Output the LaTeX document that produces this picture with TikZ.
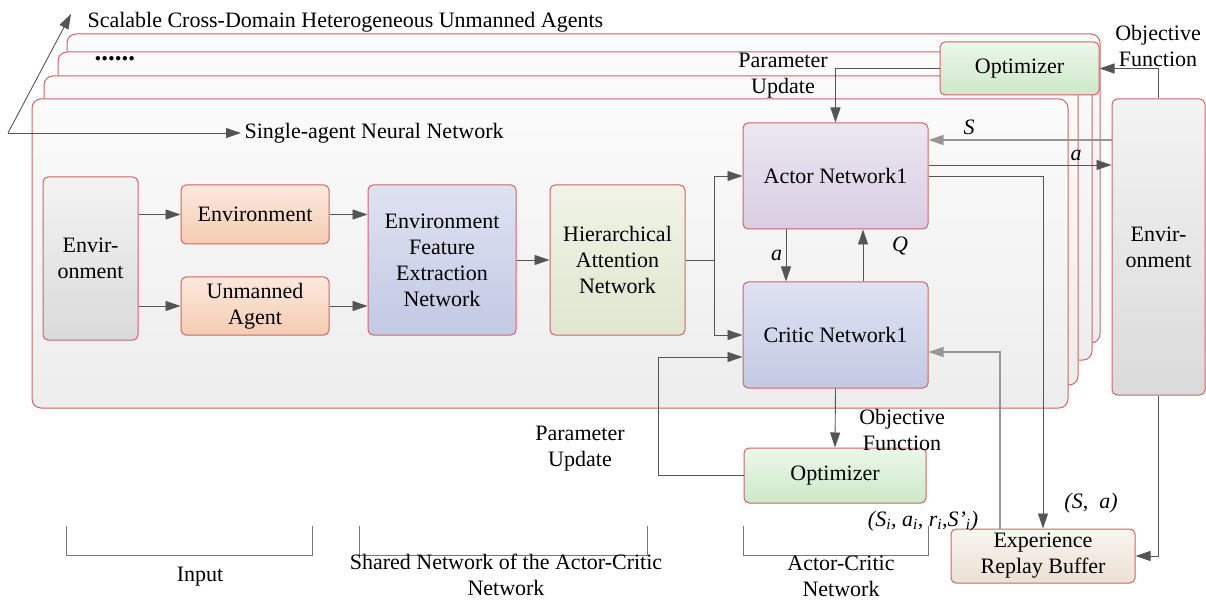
\documentclass[tikz,border=0pt]{standalone}
\usepackage{fontspec}
\setmainfont{Liberation Serif}
\usetikzlibrary{arrows.meta, positioning}
\definecolor{edgered}{RGB}{208,100,100}
\definecolor{linegray}{RGB}{85,85,85}
\definecolor{lightline}{RGB}{150,150,150}
\definecolor{frameTop}{RGB}{251,251,251}
\definecolor{frameBot}{RGB}{237,237,237}
\definecolor{grayTop}{RGB}{243,243,243}
\definecolor{grayBot}{RGB}{218,218,218}
\definecolor{orangeTop}{RGB}{252,233,222}
\definecolor{orangeBot}{RGB}{245,204,178}
\definecolor{efenTop}{RGB}{222,226,242}
\definecolor{efenBot}{RGB}{195,201,228}
\definecolor{hierTop}{RGB}{240,243,230}
\definecolor{hierBot}{RGB}{224,230,208}
\definecolor{actorTop}{RGB}{236,231,241}
\definecolor{actorBot}{RGB}{216,205,226}
\definecolor{criticTop}{RGB}{222,226,242}
\definecolor{criticBot}{RGB}{196,202,228}
\definecolor{optTop}{RGB}{236,247,234}
\definecolor{optBot}{RGB}{204,232,200}
\definecolor{bufTop}{RGB}{249,245,240}
\definecolor{bufBot}{RGB}{236,224,212}
\tikzset{
    >={Triangle[length=15pt,width=10pt]}, % filled heads as in the figure
    frame/.style={draw=edgered, line width=1pt, rounded corners=9pt, top color=frameTop, bottom color=frameBot},
    blk/.style={draw=edgered, line width=1pt, rounded corners=5pt, align=center, inner sep=2pt},
    grayblk/.style={blk, top color=grayTop, bottom color=grayBot},
    inblk/.style={blk, top color=orangeTop, bottom color=orangeBot},
    efenblk/.style={blk, top color=efenTop, bottom color=efenBot},
    hierblk/.style={blk, top color=hierTop, bottom color=hierBot},
    actorblk/.style={blk, top color=actorTop, bottom color=actorBot},
    criticblk/.style={blk, top color=criticTop, bottom color=criticBot},
    optblk/.style={blk, top color=optTop, bottom color=optBot},
    bufblk/.style={blk, top color=bufTop, bottom color=bufBot},
    arr/.style={->, draw=linegray, line width=0.9pt},
    lightarr/.style={->, draw=lightline, line width=1.1pt},
    brk/.style={draw=linegray!80, line width=0.8pt}
}

\begin{document}
\begin{tikzpicture}[x=1pt, y=-1pt, every node/.style={font=\fontsize{22}{26}\selectfont}]
        \useasboundingbox (0,0) rectangle (1206,601);

        % stacked agent frames, back to front
        \draw[frame] (67,34) rectangle (1100,343);
        \draw[frame] (58,52) rectangle (1092,360);
        \draw[frame] (44,76) rectangle (1078,385);
        \draw[frame] (32,99) rectangle (1068,408);

        \coordinate (orig) at (8,133);
        \coordinate (up) at (71,14);
        \node[anchor=west] (scal) at (84,22) {Scalable Cross-Domain Heterogeneous Unmanned Agents};
        \node[anchor=west, font=\fontsize{27}{30}\selectfont] (dots) at (91,59) {\textbf{......}};
        \node[anchor=west] (single) at (241,133) {Single-agent Neural Network};
        \draw[arr] (orig) -- (up);
        \draw[arr] (orig) -- (single.west);

        % input and shared part
        \node[grayblk, minimum width=95pt, minimum height=163pt] (envL) at (90.5,258.5) {Envir-\\onment};
        \node[inblk, minimum width=148pt, minimum height=59pt] (envB) at (255,214.5) {Environment};
        \node[inblk, minimum width=148pt, minimum height=58pt] (agent) at (255,306) {Unmanned\\Agent};
        \node[efenblk, minimum width=148pt, minimum height=150pt] (efen) at (442,260) {Environment\\Feature\\Extraction\\Network};
        \node[hierblk, minimum width=135pt, minimum height=150pt] (hier) at (617.5,260) {Hierarchical\\Attention\\Network};

        % actor-critic part
        \node[actorblk, minimum width=185pt, minimum height=106pt] (actor) at (835.5,176) {Actor Network1};
        \node[criticblk, minimum width=185pt, minimum height=106pt] (critic) at (835.5,335) {Critic Network1};
        \node[optblk, minimum width=182pt, minimum height=55pt] (optB) at (835,475.5) {Optimizer};
        \node[optblk, minimum width=159pt, minimum height=53pt] (optT) at (1019.5,68.5) {Optimizer};
        \node[grayblk, minimum width=93pt, minimum height=296pt] (envR) at (1158.5,247) {Envir-\\onment};
        \node[bufblk, minimum width=184pt, minimum height=54pt] (buffer) at (1043,556) {Experience\\Replay Buffer};

        \draw[arr] (envL.east |- envB.west) -- (envB.west);
        \draw[arr] (envL.east |- agent.west) -- (agent.west);
        \draw[arr] (envB.east) -- (efen.west |- envB.east);
        \draw[arr] (agent.east) -- (efen.west |- agent.east);
        \draw[arr] (efen.east) -- (hier.west);
        \draw[arr] (hier.east) -- ++(29,0) |- (actor.west);
        \draw[arr] (hier.east) -- ++(29,0) |- (critic.west);

        \draw[arr] ([xshift=-49.5pt]actor.south) -- node[left] {\textit{a}} ([xshift=-49.5pt]critic.north);
        \draw[arr] ([xshift=27.5pt]critic.north) -- ([xshift=27.5pt]actor.south);
        \node (qlab) at (900,246) {\textit{Q}};
        \draw[arr] (critic.south) -- (optB.north);
        \draw[arr] (optB.west) -- ++(-85,0) |- ([yshift=-22pt]critic.west);

        \coordinate (sIn) at ([yshift=36pt]actor.east);
        \coordinate (aOut) at ([yshift=11pt]actor.east);
        \draw[lightarr] (sIn -| envR.west) -- (sIn);
        \node (slab) at (969,127) {\textit{S}};
        \draw[arr] (aOut) -- (aOut -| envR.west);
        \node (alab) at (1076,155) {\textit{a}};
        \draw[arr] (actor.east) -| (buffer.north);
        \draw[lightarr] ([xshift=-43pt]buffer.north) |- ([yshift=-17pt]critic.east);
        \draw[arr] (envR.south) |- (buffer.east);
        \draw[arr] (envR.north) |- (optT.east);
        \draw[arr] (optT.west) -| (actor.north);

        \node[align=center] (puT) at (783,76) {Parameter\\Update};
        \node[align=center] (ofT) at (1158,46) {Objective\\Function};
        \node[align=center] (ofB) at (902,430) {Objective\\Function};
        \node[align=center] (puB) at (580,449) {Parameter\\Update};
        \node (salab) at (1091,503) {\textit{(S},\enspace\textit{a)}};
        \node (tuple) at (923,521) {\textit{(S\textsubscript{i}, a\textsubscript{i}, r\textsubscript{i},S’\textsubscript{i})}};

        % brackets under the parts
        \draw[brk] (66,526) -- (66,555) -- (312,555) -- (312,526);
        \node (inp) at (200,577) {Input};
        \draw[brk] (359,526) -- (359,555) -- (647,555) -- (647,526);
        \node[align=center] (shr) at (506,575) {Shared Network of the Actor-Critic\\Network};
        \draw[brk] (743,526) -- (743,555) -- (928,555) -- (928,526);
        \node[align=center] (acn) at (841,576) {Actor-Critic\\Network};
\end{tikzpicture}
\end{document}
